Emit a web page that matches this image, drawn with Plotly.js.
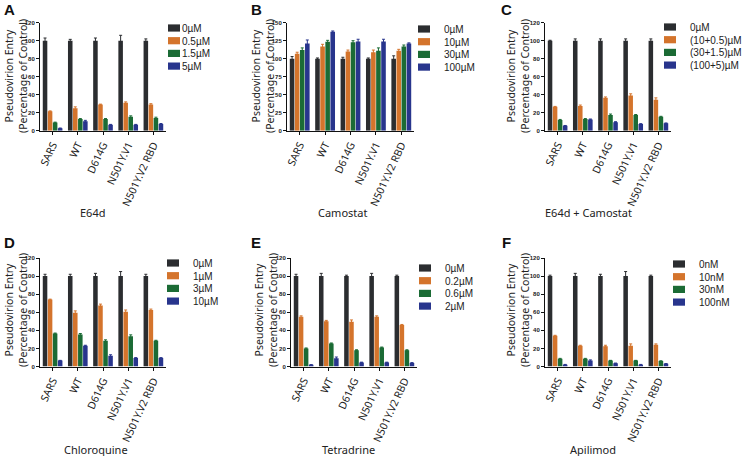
<!DOCTYPE html>
<html>
<head>
<meta charset="utf-8">
<script src="https://cdn.plot.ly/plotly-3.0.1.min.js"></script>
<style>html,body{margin:0;padding:0;background:#fff;overflow:hidden;width:743px;height:456px}#chart{width:743px;height:456px}</style>
</head>
<body>
<div id="chart"></div>
<script>
// ---------- data ----------
const groups = ['SARS', 'WT', 'D614G', 'N501Y.V1', 'N501Y.V2 RBD'];
const yTitle = 'Pseudovirion Entry<br>(Percentage of Control)';

const A_title = 'E64d';
const A_labels = ['0µM', '0.5µM', '1.5µM', '5µM'];
const A_s0 = [100, 100, 100, 100, 100];   const A_e0 = [3, 1.5, 3, 6, 2];
const A_s1 = [21.5, 25, 29, 31, 29];      const A_e1 = [0.5, 1.5, 0.5, 1, 1];
const A_s2 = [9, 13, 13, 15.5, 14];       const A_e2 = [0.5, 0.5, 0.5, 1, 1];
const A_s3 = [2.7, 10.5, 6.5, 6.5, 7.5];  const A_e3 = [0.3, 1, 0.5, 0.5, 0.5];

const B_title = 'Camostat';
const B_labels = ['0µM', '10µM', '30µM', '100µM'];
const B_s0 = [100, 100, 100, 100, 100];   const B_e0 = [3, 1, 2, 1, 4];
const B_s1 = [107, 117, 110, 109, 111];   const B_e1 = [2, 3, 2, 3, 2];
const B_s2 = [112, 123.5, 123, 111, 117]; const B_e2 = [3, 2, 2, 4, 2];
const B_s3 = [121, 137.5, 124, 124, 121]; const B_e3 = [5, 1, 3, 3, 1];

const C_title = 'E64d + Camostat';
const C_labels = ['0µM', '(10+0.5)µM', '(30+1.5)µM', '(100+5)µM'];
const C_s0 = [100, 100, 100, 100, 100];   const C_e0 = [0.5, 2, 2, 2, 2];
const C_s1 = [26.5, 27.5, 36.5, 39, 34.5];const C_e1 = [0.5, 1, 1, 2, 2];
const C_s2 = [12, 13, 17.5, 17.5, 15.5];  const C_e2 = [0.5, 0.5, 1, 0.5, 0.5];
const C_s3 = [5.5, 12.5, 9.5, 7.5, 8.3];  const C_e3 = [0.3, 0.5, 0.5, 0.3, 0.3];

const D_title = 'Chloroquine';
const D_labels = ['0µM', '1µM', '3µM', '10µM'];
const D_s0 = [100, 100, 100, 100, 100];   const D_e0 = [2, 2, 3, 5, 2];
const D_s1 = [74, 59.5, 67.5, 60.5, 62.5];const D_e1 = [0.5, 2, 1.5, 2, 1];
const D_s2 = [36.5, 35.5, 28.5, 33.5, 28.5]; const D_e2 = [0.5, 1, 1, 1.5, 0.5];
const D_s3 = [6.5, 23, 12, 9.5, 9.5];     const D_e3 = [0.3, 0.5, 1, 0.3, 0.3];

const E_title = 'Tetradrine';
const E_labels = ['0µM', '0.2µM', '0.6µM', '2µM'];
const E_s0 = [100, 100, 100, 100, 100];   const E_e0 = [2, 3, 1, 3, 1];
const E_s1 = [55, 50, 49.5, 55, 46];      const E_e1 = [1, 1, 2, 1, 0.5];
const E_s2 = [20, 25.5, 18, 21, 18];      const E_e2 = [0.5, 0.5, 0.5, 0.5, 0.5];
const E_s3 = [1.8, 9, 4.5, 4.5, 4];       const E_e3 = [0.3, 1.5, 0.3, 0.3, 0.3];

const F_title = 'Apilimod';
const F_labels = ['0nM', '10nM', '30nM', '100nM'];
const F_s0 = [100, 100, 100, 100, 100];   const F_e0 = [1, 3, 2, 5, 1];
const F_s1 = [34, 23, 22.5, 23, 24];      const F_e1 = [0.5, 0.5, 1, 2, 1];
const F_s2 = [8.5, 8.5, 6.5, 6.5, 6];     const F_e2 = [0.5, 0.5, 0.3, 0.3, 0.3];
const F_s3 = [2, 6.5, 3.5, 2, 3];         const F_e3 = [0.3, 0.8, 0.3, 0.3, 0.3];

const ticks120 = [0, 20, 40, 60, 80, 100, 120];
const ticks150 = [0, 25, 50, 75, 100, 125, 150];

// ---------- styling ----------
const W = 743, H = 456;
const colors = ['#2b2d30', '#d4742c', '#1b6b35', '#28358d'];
const FONT = 'Noto Sans, Open Sans, sans-serif';
const LEGFONT = 'Liberation Sans, Arial, sans-serif';
const ROW = 12.7;   // legend row pitch (px)

const panels = [
  {id: 'A', title: A_title, labels: A_labels, s: [A_s0, A_s1, A_s2, A_s3], e: [A_e0, A_e1, A_e2, A_e3], ticks: ticks120, max: 120,
   px: [40, 166], py: [22.7, 130.7], leg: [168, 28], letter: [9, 10], cap: [92, 213], yt: [16, 76]},
  {id: 'B', title: B_title, labels: B_labels, s: [B_s0, B_s1, B_s2, B_s3], e: [B_e0, B_e1, B_e2, B_e3], ticks: ticks150, max: 150,
   px: [287, 414], py: [22.7, 130.7], leg: [418, 29], letter: [256, 10], cap: [342, 213], yt: [263, 76]},
  {id: 'C', title: C_title, labels: C_labels, s: [C_s0, C_s1, C_s2, C_s3], e: [C_e0, C_e1, C_e2, C_e3], ticks: ticks120, max: 120,
   px: [545, 671], py: [22.7, 130.7], leg: [664, 27], letter: [506, 10], cap: [588, 213], yt: [518, 76]},
  {id: 'D', title: D_title, labels: D_labels, s: [D_s0, D_s1, D_s2, D_s3], e: [D_e0, D_e1, D_e2, D_e3], ticks: ticks120, max: 120,
   px: [40, 166], py: [258, 366.5], leg: [167, 263], letter: [9, 242], cap: [96, 449], yt: [16, 310]},
  {id: 'E', title: E_title, labels: E_labels, s: [E_s0, E_s1, E_s2, E_s3], e: [E_e0, E_e1, E_e2, E_e3], ticks: ticks120, max: 120,
   px: [291, 417], py: [258, 366.5], leg: [419, 268], letter: [256, 242], cap: [348, 449], yt: [266, 310]},
  {id: 'F', title: F_title, labels: F_labels, s: [F_s0, F_s1, F_s2, F_s3], e: [F_e0, F_e1, F_e2, F_e3], ticks: ticks120, max: 120,
   px: [545, 671], py: [258, 366.5], leg: [673, 264], letter: [506, 242], cap: [593, 449], yt: [518, 310]}
];

const data = [];
const layout = {
  width: W, height: H,
  margin: {l: 0, r: 0, t: 0, b: 0},
  paper_bgcolor: '#ffffff', plot_bgcolor: 'rgba(0,0,0,0)',
  barmode: 'group', bargap: 0.2, bargroupgap: 0.1,
  showlegend: true,
  font: {family: FONT, color: '#222'},
  annotations: []
};

panels.forEach((p, k) => {
  const n = k + 1;
  const xn = n === 1 ? 'x' : 'x' + n, yn = n === 1 ? 'y' : 'y' + n;
  const xk = n === 1 ? 'xaxis' : 'xaxis' + n, yk = n === 1 ? 'yaxis' : 'yaxis' + n;
  const lk = n === 1 ? 'legend' : 'legend' + n;
  p.s.forEach((vals, j) => {
    data.push({
      type: 'bar', x: groups, y: vals, name: p.labels[j],
      xaxis: xn, yaxis: yn, legend: lk,
      marker: {color: colors[j], line: {width: 0}},
      error_y: {type: 'data', array: p.e[j], visible: true, color: colors[j], thickness: 1, width: 1.5},
      hoverinfo: 'skip'
    });
  });
  layout[xk] = {
    domain: [p.px[0] / W, p.px[1] / W], anchor: yn,
    type: 'category', range: [-0.5, 4.5],
    showline: true, linecolor: '#111', linewidth: 1,
    ticks: 'outside', ticklen: 3, tickcolor: '#111', tickwidth: 1,
    tickangle: -65, tickfont: {family: FONT, size: 10.5, color: '#222'},
    showgrid: false, zeroline: false, fixedrange: true
  };
  layout[yk] = {
    domain: [1 - p.py[1] / H, 1 - p.py[0] / H], anchor: xn,
    range: [0, p.max], tickmode: 'array', tickvals: p.ticks,
    showline: true, linecolor: '#111', linewidth: 1,
    ticks: 'outside', ticklen: 3, tickcolor: '#111', tickwidth: 1,
    tickfont: {family: 'Liberation Sans, Arial, sans-serif', size: 6, color: '#222', weight: 'bold'},
    showgrid: false, zeroline: false, fixedrange: true
  };
  // initial legend spot chosen so Plotly never has to clip it; it is moved to its final place after drawing
  layout[lk] = {
    x: Math.min((p.leg[0] - 14) / W, 0.8), y: 1 - (p.leg[1] - 10) / H, xanchor: 'left', yanchor: 'top',
    bgcolor: 'rgba(0,0,0,0)', borderwidth: 0,
    font: {family: LEGFONT, size: 10, color: '#222'},
    itemwidth: 30, tracegroupgap: 0
  };
  layout.annotations.push({
    text: '<b>' + p.id + '</b>', xref: 'paper', yref: 'paper',
    x: p.letter[0] / W, y: 1 - p.letter[1] / H, xanchor: 'center', yanchor: 'middle',
    showarrow: false, font: {family: 'Liberation Sans, Arial, sans-serif', size: 15, color: '#111'}
  });
  layout.annotations.push({
    text: p.title, xref: 'paper', yref: 'paper',
    x: p.cap[0] / W, y: 1 - p.cap[1] / H, xanchor: 'center', yanchor: 'middle',
    showarrow: false, font: {family: FONT, size: 11, color: '#222'}
  });
  layout.annotations.push({
    text: yTitle, xref: 'paper', yref: 'paper', textangle: -90,
    x: p.yt[0] / W, y: 1 - p.yt[1] / H, xanchor: 'center', yanchor: 'middle',
    showarrow: false, font: {family: FONT, size: 10.5, color: '#222'}
  });
});

Plotly.newPlot('chart', data, layout, {staticPlot: true, displayModeBar: false}).then(gd => {
  // place each legend exactly and tighten rows/swatches to match the reference
  const legs = {};
  gd.querySelectorAll('.infolayer > g').forEach(lg => {
    const cls = lg.getAttribute('class') || '';
    if (/^legend\d*$/.test(cls)) legs[cls] = lg;
  });
  panels.forEach((p, k) => {
    const lg = legs[k === 0 ? 'legend' : 'legend' + (k + 1)];
    if (!lg) return;
    lg.setAttribute('transform', 'translate(' + (p.leg[0] - 14) + ',' + (p.leg[1] - 10) + ')');
    lg.removeAttribute('clip-path');
    lg.querySelectorAll('[clip-path]').forEach(el => el.removeAttribute('clip-path'));
    const sb = lg.querySelector('g.scrollbox');
    if (sb) sb.setAttribute('transform', 'translate(0,0)');
    lg.querySelectorAll('g.traces').forEach((it, i) => {
      it.setAttribute('transform', 'translate(0,' + (10 + i * ROW) + ')');
      const t = it.querySelector('text.legendtext');
      if (t) t.setAttribute('x', 28);
      it.querySelectorAll('g.legendpoints path').forEach(pth => {
        const tr = pth.getAttribute('transform') || '';
        if (tr.indexOf('scale') < 0) pth.setAttribute('transform', tr + ' scale(1,0.6)');
      });
    });
  });
});
</script>
</body>
</html>
